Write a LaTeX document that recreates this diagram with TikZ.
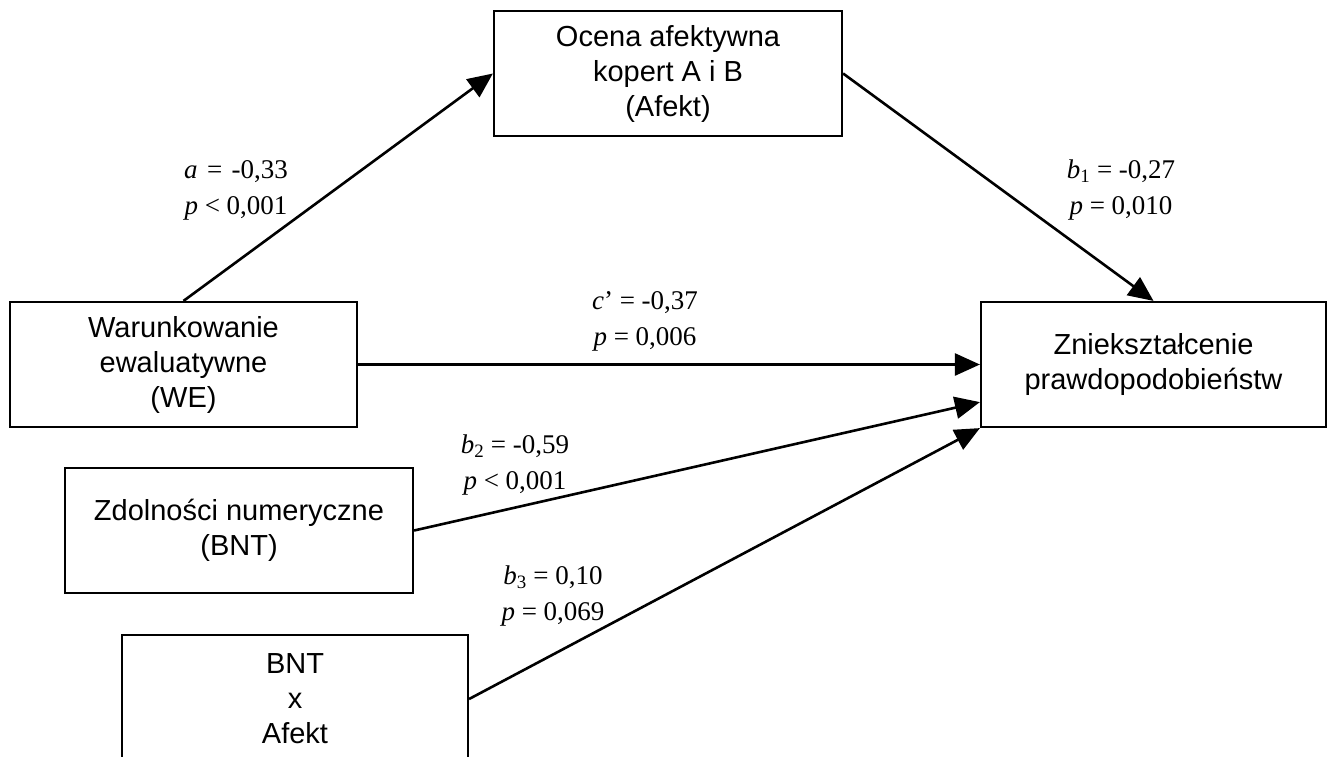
\documentclass[tikz,border=0pt]{standalone}
\usepackage{fontspec}
\setmainfont{Liberation Serif}
\newfontfamily\boxfont{Liberation Sans}
\usetikzlibrary{arrows.meta,calc}
\begin{document}
\begin{tikzpicture}[x=1pt,y=-1pt,
  box/.style={draw, line width=2.2pt, inner sep=0pt, align=center,
    font=\boxfont\fontsize{29}{35}\selectfont},
  lab/.style={align=center, inner sep=0pt, font=\fontsize{27}{36}\selectfont},
  conn/.style={line width=2.6pt, -{Triangle[length=25pt,width=22pt]}}]
\useasboundingbox (0,0) rectangle (1327,756);
\node[box, minimum width=348pt, minimum height=125pt] (afekt) at (668,73.5) {Ocena afektywna\\kopert A i B\\(Afekt)};
\node[box, minimum width=347pt, minimum height=125pt] (we) at (183.5,364.5) {Warunkowanie\\ewaluatywne\\(WE)};
\node[box, minimum width=345pt, minimum height=125pt] (zn) at (1153.5,364.5) {Zniekształcenie\\prawdopodobieństw};
\node[box, minimum width=348pt, minimum height=125pt] (bnt) at (239,530.5) {Zdolności numeryczne\\(BNT)};
\node[box, minimum width=346pt, minimum height=128pt] (inter) at (295,699) {BNT\\x\\Afekt};
\coordinate (znb2) at ($(zn.south west)+(0,-26)$);
\draw[conn] (we.north) -- (afekt.west);
\draw[conn] (afekt.east) -- (zn.north);
\draw[conn] (we.east) -- (zn.west);
\draw[conn] (bnt.east) -- (znb2);
\draw[conn] (inter.east) -- (zn.south west);
\node[lab] (la) at (236,190) {\textit{a}\hspace{0.35em}=\hspace{0.35em}-0,33\\\textit{p} < 0,001};
\node[lab] (lb1) at (1121,190) {\textit{b}\textsubscript{1} = -0,27\\\textit{p} = 0,010};
\node[lab] (lc) at (645,321) {\textit{c}’ = -0,37\\\textit{p} = 0,006};
\node[lab] (lb2) at (515,465) {\textit{b}\textsubscript{2} = -0,59\\\textit{p} < 0,001};
\node[lab] (lb3) at (553,596) {\textit{b}\textsubscript{3} = 0,10\\\textit{p} = 0,069};
\end{tikzpicture}
\end{document}
